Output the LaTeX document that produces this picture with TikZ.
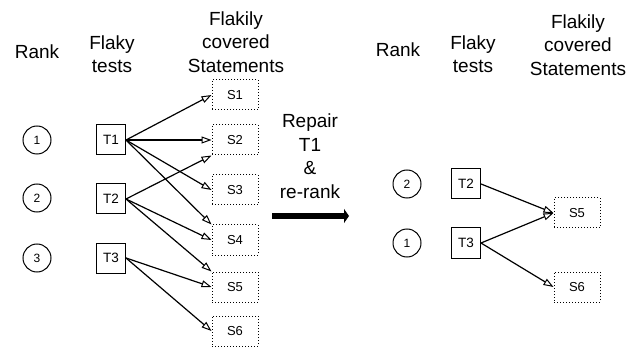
\documentclass[tikz,border=0pt]{standalone}
\usepackage{fontspec}
\setmainfont{Liberation Sans}
\usetikzlibrary{arrows.meta}
\begin{document}
\begin{tikzpicture}[x=1pt,y=-1pt,
  head/.style={font=\fontsize{19}{23.5}\selectfont, align=center, inner sep=0pt},
  ranknode/.style={circle, draw, line width=1pt, minimum size=28pt, inner sep=0pt, font=\fontsize{12}{14}\selectfont},
  testnode/.style={draw, line width=1pt, minimum width=29pt, minimum height=30pt, inner sep=0pt, font=\fontsize{13.5}{15}\selectfont},
  stmtnode/.style={draw, dotted, line width=1pt, minimum width=46pt, minimum height=30pt, inner sep=0pt, font=\fontsize{13}{15}\selectfont},
  cov/.style={line width=1.2pt, -{Triangle[open, length=10pt, width=7pt, line width=1pt]}},
  bigarrow/.style={line width=6.5pt, -{Triangle[length=5pt, width=14pt]}}
]
\useasboundingbox (0,0) rectangle (639,347);

% left headers
\node[head] (hrank) at (37,52) {Rank};
\node[head] (htests) at (112,54) {Flaky\\tests};
\node[head] (hstmt) at (236,42) {Flakily\\covered\\Statements};

% left rank circles
\node[ranknode] (r1) at (37,140) {1};
\node[ranknode] (r2) at (37,198) {2};
\node[ranknode] (r3) at (37,258) {3};

% left tests
\node[testnode] (t1) at (111,140) {T1};
\node[testnode] (t2) at (111,199) {T2};
\node[testnode] (t3) at (111,258) {T3};

% left statements
\node[stmtnode] (s1) at (235,95) {S1};
\node[stmtnode] (s2) at (235,140) {S2};
\node[stmtnode] (s3) at (235,190) {S3};
\node[stmtnode] (s4) at (235,240) {S4};
\node[stmtnode] (s5) at (235,287) {S5};
\node[stmtnode] (s6) at (235,331) {S6};

\draw[cov] (t1.east) -- (s1.west);
\draw[cov] (t1.east) -- (s2.west);
\draw[cov] (t1.east) -- (s3.west);
\draw[cov] (t1.east) -- (s4.north west);
\draw[cov] (t2.east) -- (s2.south west);
\draw[cov] (t2.east) -- (s4.west);
\draw[cov] (t2.east) -- (s5.north west);
\draw[cov] (t3.east) -- (s5.west);
\draw[cov] (t3.east) -- (s6.west);

% middle
\node[head] (repair) at (310,156) {Repair\\T1\\\&\\re-rank};
\coordinate (ba) at (272,216);
\coordinate (bb) at (349,216);
\draw[bigarrow] (ba) -- (bb);

% right headers
\node[head] (hrank2) at (398,50) {Rank};
\node[head] (htests2) at (473,54) {Flaky\\tests};
\node[head] (hstmt2) at (578,45) {Flakily\\covered\\Statements};

\node[ranknode] (q2) at (407,184) {2};
\node[ranknode] (q1) at (407,243) {1};

\node[testnode] (u2) at (466,184) {T2};
\node[testnode] (u3) at (466,243) {T3};

\node[stmtnode] (v5) at (577,213) {S5};
\node[stmtnode] (v6) at (577,287) {S6};

\draw[cov] (u2.east) -- (v5.west);
\draw[cov] (u3.east) -- (v5.west);
\draw[cov] (u3.east) -- (v6.west);
\end{tikzpicture}
\end{document}
